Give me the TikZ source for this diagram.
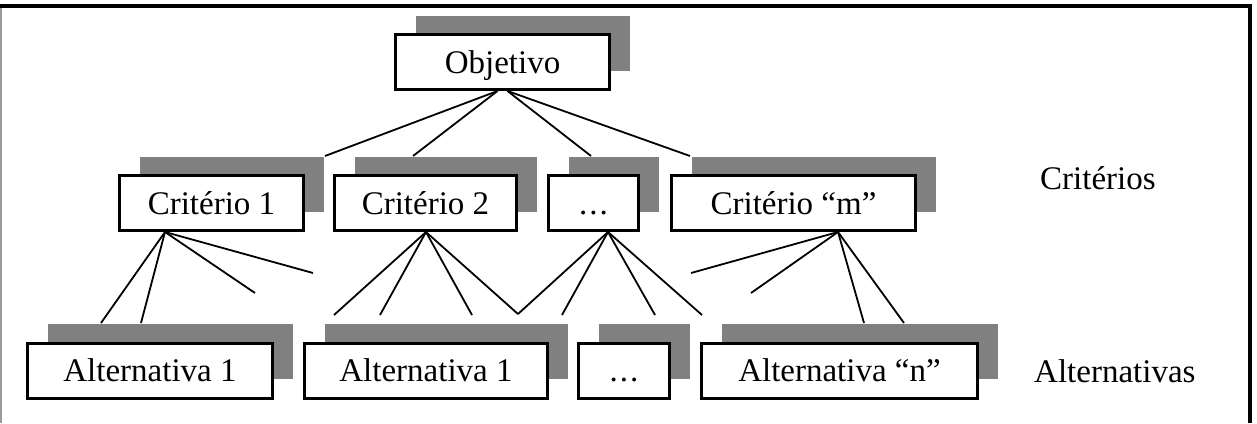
\documentclass[tikz,border=0pt]{standalone}
\usepackage{fontspec}
\setmainfont{Liberation Serif}
\usetikzlibrary{shadows,calc}
\definecolor{shadowgray}{HTML}{808080}
\definecolor{framegray}{HTML}{9A9A9A}
\begin{document}
\begin{tikzpicture}[x=1pt,y=-1pt,
  box/.style={draw=black, line width=3pt, fill=white, inner sep=0pt,
    minimum height=55pt, text height=22pt, text depth=0pt,
    font=\fontsize{33}{40}\selectfont,
    general shadow={shadow xshift=20pt, shadow yshift=19pt, fill=shadowgray}},
  link/.style={line width=1.8pt, black},
  lbl/.style={font=\fontsize{33}{40}\selectfont, inner sep=0pt, anchor=west}]
\useasboundingbox (0,0) rectangle (1257,423);
% frame
\draw[framegray, line width=2pt] (1,6) -- (1,423);
\draw[black, line width=4pt] (0,6) -- (1252,6);
\draw[black, line width=4.5pt] (1250,4) -- (1250,423);
% boxes
\node[box, minimum width=214pt] (obj) at (502.5,62) {Objetivo};
\node[box, minimum width=184pt] (c1) at (211.5,203) {Critério 1};
\node[box, minimum width=182pt] (c2) at (425.5,203) {Critério 2};
\node[box, minimum width=90pt] (cd) at (593.5,203) {.\kern2pt.\kern2pt.};
\node[box, minimum width=244pt] (cm) at (793.5,203) {Critério “m”};
\node[box, minimum width=245pt] (a1) at (150,370.5) {Alternativa 1};
\node[box, minimum width=243pt] (a2) at (426,370.5) {Alternativa 1};
\node[box, minimum width=91pt] (ad) at (624,370.5) {.\kern2pt.\kern2pt.};
\node[box, minimum width=276pt] (an) at (839.5,370.5) {Alternativa “n”};
% labels
\node[lbl] (lc) at (1040,178) {Critérios};
\node[lbl] (la) at (1034,371) {Alternativas};
% apex points
\coordinate (oL) at ($(obj.south)+(-5,0)$);
\coordinate (oR) at ($(obj.south)+(5,0)$);
\coordinate (p1) at (165,232);
\coordinate (p2) at (426,232);
\coordinate (p3) at (608,232);
\coordinate (p4) at (838,232);
% ends
\coordinate (e1) at (325,156);
\coordinate (e2) at (413,156);
\coordinate (e3) at (591,156);
\coordinate (e4) at (690,156);
\coordinate (v) at (518,314);
% objetivo links
\draw[link] (oL) -- (e1);
\draw[link] (oL) -- (e2);
\draw[link] (oR) -- (e3);
\draw[link] (oR) -- (e4);
% criterio 1
\coordinate (f1) at (101,323);
\coordinate (f2) at (141,323);
\coordinate (f3) at (255,293);
\coordinate (f4) at (313,273);
\draw[link] (p1) -- (f1);
\draw[link] (p1) -- (f2);
\draw[link] (p1) -- (f3);
\draw[link] (p1) -- (f4);
% criterio 2
\coordinate (g1) at (334,315);
\coordinate (g2) at (380,315);
\coordinate (g3) at (472,315);
\draw[link] (p2) -- (g1);
\draw[link] (p2) -- (g2);
\draw[link] (p2) -- (g3);
\draw[link] (p2) -- (v);
% dots criterio
\coordinate (h2) at (562,315);
\coordinate (h3) at (655,315);
\coordinate (h4) at (702,315);
\draw[link] (p3) -- (v);
\draw[link] (p3) -- (h2);
\draw[link] (p3) -- (h3);
\draw[link] (p3) -- (h4);
% criterio m
\coordinate (k1) at (691,273);
\coordinate (k2) at (751,293);
\coordinate (k3) at (864,323);
\coordinate (k4) at (904,323);
\draw[link] (p4) -- (k1);
\draw[link] (p4) -- (k2);
\draw[link] (p4) -- (k3);
\draw[link] (p4) -- (k4);
\end{tikzpicture}
\end{document}
